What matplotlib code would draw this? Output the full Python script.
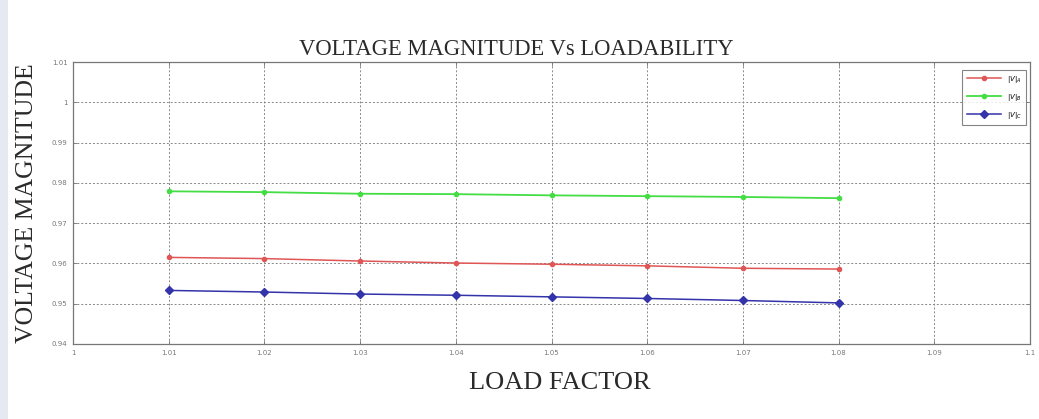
import matplotlib
matplotlib.use("Agg")
import matplotlib.pyplot as plt
from matplotlib.patches import Rectangle

# Load factor steps and per-phase voltage magnitudes
load_factor = [1.01, 1.02, 1.03, 1.04, 1.05, 1.06, 1.07, 1.08]
v_a = [0.9615, 0.9612, 0.9606, 0.9601, 0.9598, 0.9594, 0.9588, 0.9586]
v_b = [0.9779, 0.9777, 0.9773, 0.9772, 0.9769, 0.9767, 0.9765, 0.9762]
v_c = [0.9533, 0.9529, 0.9524, 0.9521, 0.9517, 0.9513, 0.9508, 0.9502]

x_ticks = [1.0, 1.01, 1.02, 1.03, 1.04, 1.05, 1.06, 1.07, 1.08, 1.09, 1.1]
x_tick_labels = ["1", "1.01", "1.02", "1.03", "1.04", "1.05", "1.06", "1.07", "1.08", "1.09", "1.1"]
y_ticks = [0.94, 0.95, 0.96, 0.97, 0.98, 0.99, 1.0, 1.01]
y_tick_labels = ["0.94", "0.95", "0.96", "0.97", "0.98", "0.99", "1", "1.01"]

fig = plt.figure(figsize=(10.39, 4.19), dpi=100)
fig.patches.append(Rectangle((0, 0), 8 / 1039, 1, transform=fig.transFigure,
                             facecolor="#e4e9f2", edgecolor="none", zorder=0))
ax = fig.add_axes([0.0703, 0.179, 0.921, 0.673])

ax.plot(load_factor, v_a, color="#e05555", marker="o", markersize=3, linewidth=1.1, label=r"$|V|_A$")
ax.plot(load_factor, v_b, color="#44dd44", marker="o", markersize=3, linewidth=1.3, label=r"$|V|_B$")
ax.plot(load_factor, v_c, color="#3333aa", marker="D", markersize=4, linewidth=1.1, label=r"$|V|_C$")

ax.set_xlim(1.0, 1.1)
ax.set_ylim(0.94, 1.01)
ax.set_xticks(x_ticks)
ax.set_xticklabels(x_tick_labels)
ax.set_yticks(y_ticks)
ax.set_yticklabels(y_tick_labels)
ax.tick_params(direction="in", top=True, right=True, labelsize=5, colors="#777777",
               length=3, width=0.6, pad=4)
for sp in ax.spines.values():
    sp.set_color("#777777")
    sp.set_linewidth(0.9)
ax.grid(True, linestyle=(0, (2, 2)), color="#888888", linewidth=0.7)

ax.set_title("VOLTAGE MAGNITUDE Vs LOADABILITY", family="Liberation Serif",
             fontsize=16.3, color="#2a2a2a", pad=5, x=0.463)
ax.set_xlabel("LOAD FACTOR", family="Liberation Serif", fontsize=19, color="#2a2a2a",
              labelpad=12, x=0.509)
ax.set_ylabel("VOLTAGE MAGNITUDE", family="Liberation Serif", fontsize=18.5, color="#2a2a2a", labelpad=10)

leg = ax.legend(loc="upper right", fontsize=5, frameon=True, fancybox=False,
                edgecolor="#666666", handlelength=5, borderpad=0.6, labelspacing=1.0,
                bbox_to_anchor=(0.9995, 0.985))
leg.get_frame().set_linewidth(0.8)

fig.savefig("out.png", dpi=100)
